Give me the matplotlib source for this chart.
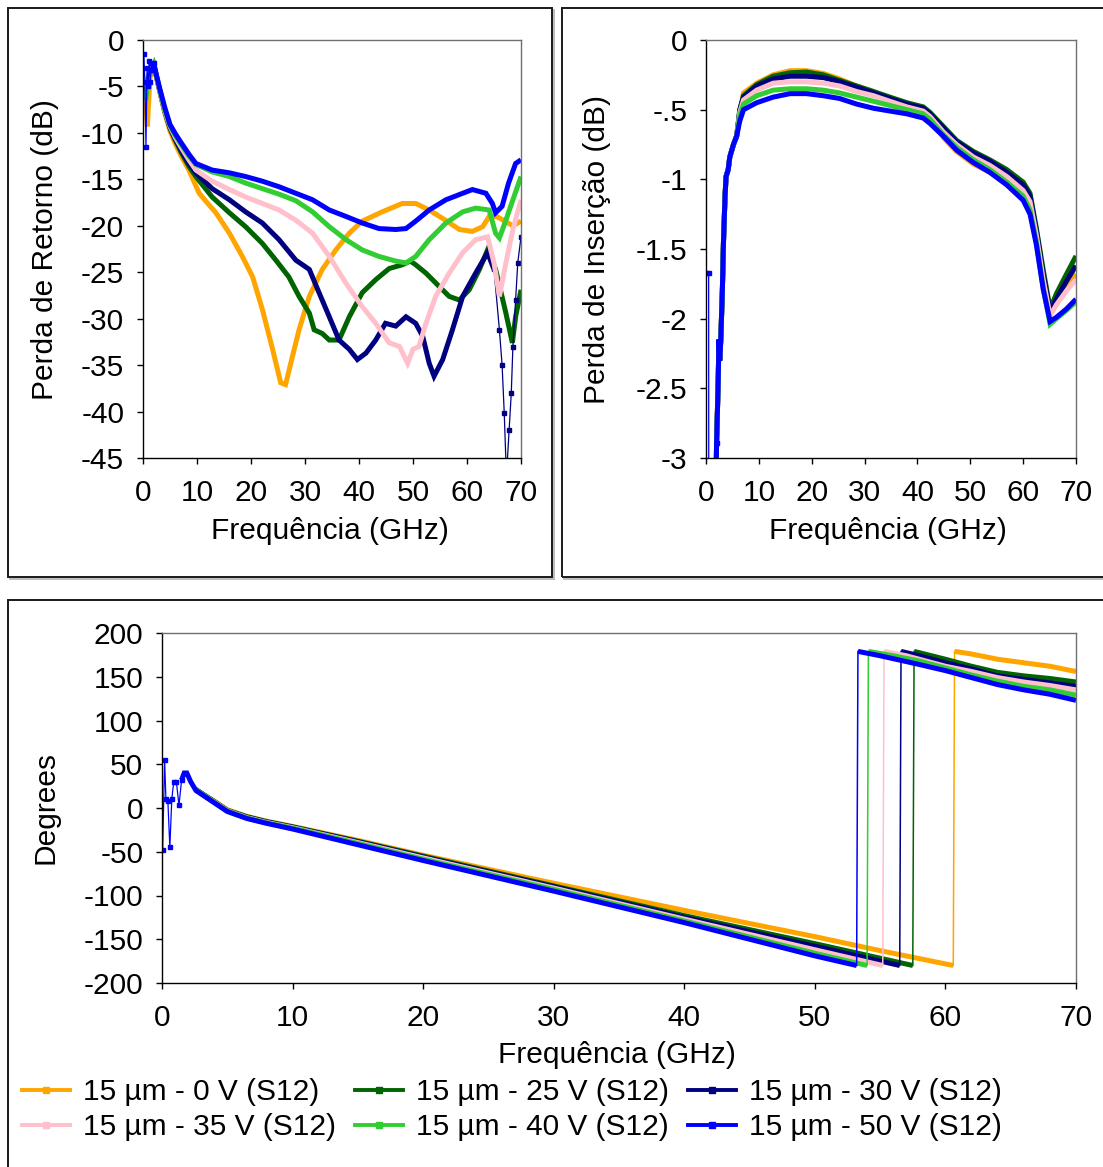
import numpy as np
import matplotlib
matplotlib.use("Agg")
import matplotlib.pyplot as plt
from matplotlib.lines import Line2D
from matplotlib.patches import Rectangle

plt.rcParams['font.family'] = ['Liberation Sans', 'DejaVu Sans']
plt.rcParams['axes.unicode_minus'] = False

# ---------------------------------------------------------------- series
series_labels = ['15 µm - 0 V (S12)', '15 µm - 25 V (S12)', '15 µm - 30 V (S12)',
                 '15 µm - 35 V (S12)', '15 µm - 40 V (S12)', '15 µm - 50 V (S12)']
series_colors = ['#FFA500', '#006400', '#000080', '#FFC0CB', '#32CD32', '#0000FF']

# ---------------------------------------------------------------- return loss (dB)
rl_freq_0v = [0.3, 0.8, 1.3, 2.0, 3.0, 4.0, 5.0, 6.0, 7.0, 8.5, 10.4, 12.0, 13.5, 16.0, 18.4,
              20.3, 22.1, 24.0, 25.5, 26.4, 27.7, 28.9, 30.8, 33.2, 35.7, 38.2, 40.6, 44.3,
              48.0, 50.5, 53.0, 56.0, 58.6, 61.0, 62.9, 64.1, 65.5, 67.0, 68.5, 70.0]
rl_db_0v = [-5.0, -9.3, -4.0, -2.8, -5.3, -7.8, -9.8, -11.2, -12.4, -14.0, -16.5, -17.6, -18.6,
            -20.8, -23.3, -25.5, -29.0, -33.3, -36.9, -37.1, -34.0, -31.2, -27.6, -24.7, -22.6,
            -20.8, -19.5, -18.5, -17.6, -17.6, -18.3, -19.4, -20.4, -20.6, -20.1, -19.0, -19.0,
            -19.5, -20.0, -19.5]

rl_freq_25v = [0.5, 1.0, 2.0, 3.0, 4.0, 5.0, 6.0, 7.0, 8.5, 9.8, 12.8, 16.0, 19.0, 22.1, 24.6,
               27.0, 28.9, 30.8, 31.7, 33.2, 34.5, 36.3, 38.2, 40.6, 43.1, 45.6, 48.0, 49.5,
               50.5, 52.4, 54.8, 56.7, 58.6, 60.4, 62.3, 63.8, 65.3, 67.2, 68.4, 69.0, 70.0]
rl_db_25v = [-6.0, -4.0, -2.7, -5.2, -7.6, -9.5, -10.8, -12.0, -13.6, -14.7, -16.9, -18.6, -20.1,
             -21.9, -23.7, -25.5, -27.6, -29.4, -31.2, -31.6, -32.3, -32.3, -29.8, -27.2, -25.8,
             -24.6, -24.2, -23.8, -24.2, -25.1, -26.5, -27.6, -28.0, -26.9, -24.7, -22.6, -24.7,
             -29.4, -32.6, -29.8, -26.9]

rl_freq_30v = [0.5, 1.0, 2.0, 3.0, 4.0, 5.0, 6.0, 7.0, 8.5, 9.8, 12.8, 16.0, 19.0, 22.1, 25.2,
               28.3, 30.8, 32.6, 34.5, 36.3, 38.2, 39.7, 41.3, 43.1, 44.9, 46.8, 48.7, 50.5,
               51.8, 53.0, 53.9, 55.5, 57.3, 59.2, 61.6, 63.8, 65.0]
rl_db_30v = [-5.0, -4.0, -2.7, -5.2, -7.6, -9.4, -10.7, -11.8, -13.3, -14.3, -16.0, -17.2, -18.5,
             -19.7, -21.5, -23.7, -24.7, -27.2, -29.8, -32.3, -33.3, -34.4, -33.7, -32.3, -30.5,
             -30.8, -29.8, -30.5, -31.9, -34.8, -36.2, -34.4, -31.2, -27.6, -25.1, -22.9, -24.7]
# sharp notch near 67 GHz, sparse points
rl_notch_freq_30v = [65.0, 66.0, 66.5, 66.9, 67.3, 67.8, 68.2, 68.5, 69.0, 69.4, 70.0]
rl_notch_db_30v = [-24.7, -31.2, -35.0, -40.2, -47.0, -42.0, -38.0, -33.0, -28.0, -24.0, -21.2]

rl_freq_35v = [0.5, 1.0, 2.0, 3.0, 4.0, 5.0, 6.0, 7.0, 8.5, 9.8, 12.8, 16.0, 19.0, 22.1, 25.2,
               28.3, 31.4, 34.5, 37.6, 40.6, 43.1, 45.6, 47.5, 49.0, 50.0, 51.1, 52.4, 54.2,
               56.7, 59.2, 61.6, 63.8, 65.0, 66.0, 67.2, 68.5, 70.0]
rl_db_35v = [-5.0, -4.0, -2.7, -5.2, -7.6, -9.3, -10.5, -11.5, -12.9, -14.0, -15.2, -16.1, -16.9,
             -17.6, -18.3, -19.4, -20.8, -23.3, -26.2, -28.7, -30.5, -32.6, -33.0, -34.8, -33.3,
             -33.0, -30.5, -27.6, -25.1, -22.9, -21.5, -21.2, -24.0, -27.6, -24.0, -20.4, -17.2]

rl_freq_40v = [0.5, 1.0, 2.0, 3.0, 4.0, 5.0, 6.0, 7.0, 8.5, 9.8, 12.8, 16.0, 19.0, 22.1, 25.2,
               28.3, 31.4, 34.5, 37.6, 40.6, 43.7, 46.8, 48.7, 50.5, 53.0, 56.1, 59.2, 61.6,
               64.1, 65.3, 66.0, 67.2, 68.5, 70.0]
rl_db_40v = [-6.5, -4.0, -2.7, -5.1, -7.5, -9.2, -10.3, -11.2, -12.5, -13.4, -14.2, -14.7, -15.4,
             -16.0, -16.6, -17.3, -18.5, -20.1, -21.5, -22.6, -23.3, -23.8, -24.0, -23.3, -21.5,
             -19.7, -18.5, -18.1, -18.3, -20.8, -21.3, -19.4, -17.2, -14.7]

# 50 V: noisy low-frequency start drawn with thin line
rl_noise_freq_50v = [0.15, 0.35, 0.55, 0.75, 0.95, 1.15, 1.35, 1.55, 1.75, 2.0]
rl_noise_db_50v = [-1.5, -4.5, -11.5, -3.0, -5.0, -2.3, -4.5, -2.5, -3.2, -2.5]
rl_freq_50v = [2.0, 2.5, 3.0, 4.0, 5.0, 6.0, 7.0, 8.5, 9.8, 12.8, 16.0, 19.0, 22.1, 25.2, 28.3,
               31.4, 34.5, 37.6, 40.6, 43.7, 46.8, 48.7, 50.5, 53.0, 56.1, 59.2, 61.0, 63.5,
               64.7, 65.3, 66.5, 67.7, 69.0, 70.0]
rl_db_50v = [-2.5, -3.8, -5.0, -7.2, -9.1, -10.1, -11.0, -12.3, -13.3, -14.0, -14.3, -14.7,
             -15.2, -15.8, -16.5, -17.2, -18.3, -19.0, -19.7, -20.3, -20.4, -20.3, -19.5, -18.3,
             -17.2, -16.5, -16.1, -16.5, -17.6, -18.6, -17.9, -15.4, -13.3, -12.9]

# ---------------------------------------------------------------- insertion loss (dB)
il_rise_freq = [1.9, 2.0, 2.15, 2.3, 2.45, 2.6, 2.8, 3.1, 3.3, 3.6, 3.8, 4.2, 4.5, 5.2, 5.8]
il_rise_db = [-3.2, -2.89, -2.68, -2.46, -2.15, -2.3, -2.15, -1.79, -1.46, -1.12, -0.98, -0.93,
              -0.84, -0.75, -0.69]
il_top_freq = [6.4, 7.1, 9.6, 12.7, 15.9, 19.0, 22.2, 25.3, 28.5, 31.7, 34.8, 38.0, 41.1, 42.4,
               44.9, 47.4, 50.6, 53.7, 56.9, 60.0, 61.3, 62.5, 63.8, 65.1, 66.3, 68.2, 70.0]
il_db_0v = [-0.52, -0.38, -0.31, -0.25, -0.22, -0.22, -0.24, -0.28, -0.33, -0.37, -0.42, -0.46,
            -0.50, -0.56, -0.70, -0.80, -0.89, -0.95, -1.02, -1.12, -1.20, -1.42, -1.72, -1.97,
            -1.88, -1.78, -1.68]
il_db_25v = [-0.50, -0.40, -0.32, -0.26, -0.235, -0.23, -0.25, -0.29, -0.33, -0.37, -0.41,
             -0.45, -0.48, -0.52, -0.62, -0.72, -0.80, -0.86, -0.93, -1.02, -1.10, -1.35, -1.65,
             -1.93, -1.82, -1.68, -1.55]
il_db_30v = [-0.50, -0.41, -0.33, -0.28, -0.26, -0.26, -0.27, -0.30, -0.34, -0.38, -0.42, -0.46,
             -0.49, -0.53, -0.63, -0.73, -0.81, -0.87, -0.95, -1.04, -1.12, -1.37, -1.68, -1.95,
             -1.86, -1.73, -1.62]
il_db_35v = [-0.52, -0.43, -0.36, -0.31, -0.30, -0.30, -0.31, -0.33, -0.37, -0.40, -0.44, -0.48,
             -0.51, -0.55, -0.66, -0.75, -0.84, -0.90, -0.98, -1.08, -1.16, -1.40, -1.72, -1.98,
             -1.90, -1.80, -1.72]
il_db_40v = [-0.54, -0.46, -0.40, -0.36, -0.35, -0.35, -0.36, -0.38, -0.41, -0.44, -0.47, -0.50,
             -0.53, -0.57, -0.68, -0.77, -0.86, -0.93, -1.02, -1.12, -1.22, -1.45, -1.78, -2.04,
             -2.00, -1.94, -1.88]
il_db_50v = [-0.58, -0.50, -0.45, -0.41, -0.385, -0.385, -0.40, -0.42, -0.46, -0.49, -0.51,
             -0.53, -0.56, -0.60, -0.69, -0.79, -0.88, -0.95, -1.04, -1.15, -1.25, -1.47, -1.79,
             -2.02, -1.99, -1.93, -1.86]
il_noise_freq_50v = [0.15, 0.5, 0.52, 1.9, 2.0]
il_noise_db_50v = [-1.67, -1.67, -3.3, -3.3, -2.89]

# ---------------------------------------------------------------- phase (degrees)
ph_freq_0v = [2.6, 3.0, 4.0, 5.0, 6.5, 8.0, 10.0, 15.0, 20.0, 30.0, 40.0, 50.0, 55.0, 60.6]
ph_deg_0v = [21, 17, 8, -2, -9.5, -15, -21, -37, -54, -86, -117, -147, -163, -180]
ph_wrap_freq_0v = [60.7, 62.0, 64.0, 66.0, 68.0, 70.0]
ph_wrap_deg_0v = [179, 176, 170, 166, 162, 156]

ph_freq_25v = [2.6, 3.0, 4.0, 5.0, 6.5, 8.0, 10.0, 15.0, 20.0, 30.0, 40.0, 50.0, 57.5]
ph_deg_25v = [21, 17, 7.5, -2.5, -10, -15.5, -21.5, -38, -55, -89, -123, -155, -180]
ph_wrap_freq_25v = [57.6, 60.0, 62.0, 64.0, 66.0, 68.0, 70.0]
ph_wrap_deg_25v = [179, 170, 162, 155, 151, 148, 144]

ph_freq_30v = [2.6, 3.0, 4.0, 5.0, 6.5, 8.0, 10.0, 15.0, 20.0, 30.0, 40.0, 50.0, 56.5]
ph_deg_30v = [21, 17, 7, -3, -10.5, -16, -22, -38.5, -56, -90, -125, -158, -180]
ph_wrap_freq_30v = [56.6, 58.0, 60.0, 62.0, 64.0, 66.0, 68.0, 70.0]
ph_wrap_deg_30v = [179, 174, 166, 159, 151, 147, 143, 139]

ph_freq_35v = [2.6, 3.0, 4.0, 5.0, 6.5, 8.0, 10.0, 15.0, 20.0, 30.0, 40.0, 50.0, 55.2]
ph_deg_35v = [20.5, 16.5, 7, -3, -11, -16.5, -22.5, -39.5, -57, -91.5, -127, -162, -180]
ph_wrap_freq_35v = [55.3, 57.0, 60.0, 62.0, 64.0, 66.0, 68.0, 70.0]
ph_wrap_deg_35v = [179, 174, 162, 156, 149, 144, 140, 135]

ph_freq_40v = [2.6, 3.0, 4.0, 5.0, 6.5, 8.0, 10.0, 15.0, 20.0, 30.0, 40.0, 50.0, 54.0]
ph_deg_40v = [20.5, 16.5, 6.5, -3.5, -11.5, -17, -23, -40.5, -58.5, -93, -129, -166, -180]
ph_wrap_freq_40v = [54.1, 56.0, 58.0, 60.0, 62.0, 64.0, 66.0, 68.0, 70.0]
ph_wrap_deg_40v = [179, 174, 168, 160, 152, 145, 139, 135, 129]

ph_noise_freq_50v = [0.05, 0.2, 0.3, 0.45, 0.6, 0.75, 0.9, 1.1, 1.3, 1.5]
ph_noise_deg_50v = [-48, 55, 10, 8, -45, 10, 30, 30, 3, 32]
ph_freq_50v = [1.5, 1.7, 1.9, 2.2, 2.6, 3.0, 4.0, 5.0, 6.5, 8.0, 10.0, 15.0, 20.0, 30.0, 40.0,
               50.0, 53.2]
ph_deg_50v = [32, 40, 40, 30, 20, 16, 6, -4, -12, -17.5, -24, -42, -60, -95, -131, -169, -180]
ph_wrap_freq_50v = [53.3, 55.0, 58.0, 60.0, 62.0, 64.0, 66.0, 68.0, 70.0]
ph_wrap_deg_50v = [179, 174, 164, 157, 149, 141, 135, 130, 123]

freq_ticks = [0, 10, 20, 30, 40, 50, 60, 70]
rl_ticks = [0, -5, -10, -15, -20, -25, -30, -35, -40, -45]
il_ticks = [0, -0.5, -1, -1.5, -2, -2.5, -3]
il_tick_labels = ['0', '-.5', '-1', '-1.5', '-2', '-2.5', '-3']
ph_ticks = [200, 150, 100, 50, 0, -50, -100, -150, -200]

# ---------------------------------------------------------------- figure
W, H, DPI = 1103, 1167, 100
fig = plt.figure(figsize=(W / DPI, H / DPI), dpi=DPI)
fig.patch.set_facecolor('white')

FS = 21.5
THICK = 3.6
THIN = 0.9


def px_axes(left, top, right, bottom):
    return fig.add_axes([left / W, 1 - bottom / H, (right - left) / W, (bottom - top) / H])


def style_axes(ax):
    ax.tick_params(axis='both', direction='out', length=4, width=1.0, labelsize=FS,
                   top=False, right=False, colors='black')
    ax.tick_params(axis='x', pad=11)
    ax.tick_params(axis='y', pad=9.5)
    for side in ('left', 'bottom'):
        ax.spines[side].set_color('black')
        ax.spines[side].set_linewidth(1.0)
    for side in ('top', 'right'):
        ax.spines[side].set_color('#707070')
        ax.spines[side].set_linewidth(1.0)


def thick(ax, f, v, c):
    ax.plot(f, v, color=c, lw=THICK, solid_joinstyle='miter', solid_capstyle='butt')


def thin(ax, f, v, c):
    ax.plot(f, v, color=c, lw=THIN, marker='s', ms=3.2, mec=c, mfc=c)


# panel frames
def frame(x0, y0, x1, y1):
    fig.add_artist(Line2D([(x1 + 1.5) / W, (x1 + 1.5) / W], [1 - (y0 + 2) / H, 1 - (y1 + 1.5) / H],
                          transform=fig.transFigure, color='#b8b8b8', lw=1.3))
    fig.add_artist(Line2D([(x0 + 2) / W, (x1 + 1.5) / W], [1 - (y1 + 1.5) / H, 1 - (y1 + 1.5) / H],
                          transform=fig.transFigure, color='#b8b8b8', lw=1.3))
    fig.add_artist(Rectangle((x0 / W, 1 - y1 / H), (x1 - x0) / W, (y1 - y0) / H,
                             transform=fig.transFigure, fill=False, edgecolor='#1a1a1a',
                             lw=1.4))


frame(8, 8, 552, 577)
frame(562, 8, 1115, 577)
frame(8, 600, 1115, 1180)

# ---------------------------------------------------------------- return loss panel
ax1 = px_axes(143, 40, 521, 458)
style_axes(ax1)
rl_data = [(rl_freq_0v, rl_db_0v), (rl_freq_25v, rl_db_25v), (rl_freq_30v, rl_db_30v),
           (rl_freq_35v, rl_db_35v), (rl_freq_40v, rl_db_40v), (rl_freq_50v, rl_db_50v)]
for i, (f, v) in enumerate(rl_data):
    thick(ax1, f, v, series_colors[i])
    if i == 2:
        thin(ax1, rl_notch_freq_30v, rl_notch_db_30v, series_colors[i])
thin(ax1, rl_noise_freq_50v, rl_noise_db_50v, series_colors[5])
ax1.set_xlim(0, 70)
ax1.set_ylim(-45, 0)
ax1.set_xticks(freq_ticks)
ax1.set_yticks(rl_ticks)
ax1.set_yticklabels([str(t) for t in rl_ticks])
ax1.set_xlabel('Frequência (GHz)', fontsize=FS)
ax1.set_ylabel('Perda de Retorno (dB)', fontsize=FS)
ax1.xaxis.set_label_coords(0.495, -0.175)
ax1.xaxis.label.set_va('center')
ax1.yaxis.set_label_coords(-0.259, 0.4976)
ax1.yaxis.label.set_va('center')

# ---------------------------------------------------------------- insertion loss panel
ax2 = px_axes(706, 40, 1076, 458)
style_axes(ax2)
il_series = [il_db_0v, il_db_25v, il_db_30v, il_db_35v, il_db_40v, il_db_50v]
for i, v in enumerate(il_series):
    f = np.concatenate([il_rise_freq, il_top_freq])
    d = np.concatenate([il_rise_db, v])
    thick(ax2, f, d, series_colors[i])
thin(ax2, il_noise_freq_50v, il_noise_db_50v, series_colors[5])
ax2.set_xlim(0, 70)
ax2.set_ylim(-3, 0)
ax2.set_xticks(freq_ticks)
ax2.set_yticks(il_ticks)
ax2.set_yticklabels(il_tick_labels)
ax2.set_xlabel('Frequência (GHz)', fontsize=FS)
ax2.set_ylabel('Perda de Inserção (dB)', fontsize=FS)
ax2.xaxis.set_label_coords(0.492, -0.175)
ax2.xaxis.label.set_va('center')
ax2.yaxis.set_label_coords(-0.295, 0.5)
ax2.yaxis.label.set_va('center')

# ---------------------------------------------------------------- phase panel
ax3 = px_axes(162, 633, 1076, 983)
style_axes(ax3)
ph_data = [(ph_freq_0v, ph_deg_0v, ph_wrap_freq_0v, ph_wrap_deg_0v),
           (ph_freq_25v, ph_deg_25v, ph_wrap_freq_25v, ph_wrap_deg_25v),
           (ph_freq_30v, ph_deg_30v, ph_wrap_freq_30v, ph_wrap_deg_30v),
           (ph_freq_35v, ph_deg_35v, ph_wrap_freq_35v, ph_wrap_deg_35v),
           (ph_freq_40v, ph_deg_40v, ph_wrap_freq_40v, ph_wrap_deg_40v),
           (ph_freq_50v, ph_deg_50v, ph_wrap_freq_50v, ph_wrap_deg_50v)]
for i, (f, d, fw, dw) in enumerate(ph_data):
    c = series_colors[i]
    thick(ax3, f, d, c)
    thick(ax3, fw, dw, c)
    # wrap-around jump from -180 to +180
    ax3.plot([f[-1], fw[0]], [d[-1], dw[0]], color=c, lw=1.1)
thin(ax3, ph_noise_freq_50v, ph_noise_deg_50v, series_colors[5])
ax3.set_xlim(0, 70)
ax3.set_ylim(-200, 200)
ax3.set_xticks(freq_ticks)
ax3.set_yticks(ph_ticks)
ax3.set_yticklabels([str(t) for t in ph_ticks])
ax3.set_xlabel('Frequência (GHz)', fontsize=FS)
ax3.set_ylabel('Degrees', fontsize=FS)
ax3.xaxis.set_label_coords(0.498, -0.206)
ax3.xaxis.label.set_va('center')
ax3.yaxis.set_label_coords(-0.128, 0.5)
ax3.yaxis.label.set_va('center')

# legend: three columns, filled row by row
handles = [Line2D([], [], color=c, lw=2.8, marker='s', ms=4.5, mfc=c, mec=c)
           for c in series_colors]
order = [0, 3, 1, 4, 2, 5]
fig.legend([handles[k] for k in order], [series_labels[k] for k in order],
           loc='upper left', bbox_to_anchor=(22 / W, 1 - 1078 / H), ncol=3,
           frameon=False, fontsize=FS, borderpad=0, borderaxespad=0,
           handlelength=1.6, handletextpad=0.43, columnspacing=0.65, labelspacing=0.25)

fig.savefig('out.png', dpi=DPI, facecolor='white')
